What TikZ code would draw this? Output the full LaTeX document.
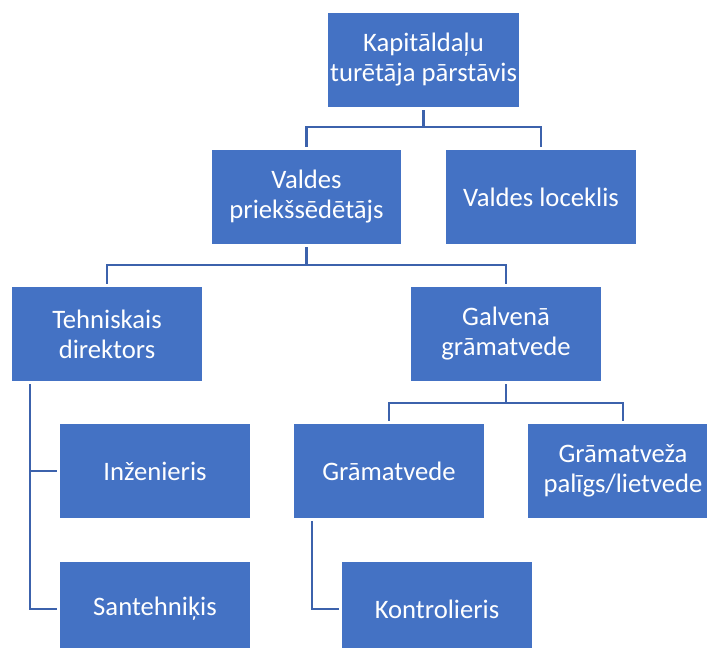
\documentclass[tikz,border=0pt]{standalone}
\usepackage{fontspec}
\setmainfont{Carlito}
\usepackage{tikz}

\definecolor{boxblue}{RGB}{68,114,196}
\definecolor{linkblue}{RGB}{60,98,172}

\begin{document}
\begin{tikzpicture}[x=0.75pt,y=0.75pt,yscale=-1,
  orgbox/.style={draw=white,line width=1.2pt,fill=boxblue,text=white,
    minimum width=143.25pt,minimum height=71.25pt,inner sep=2pt,
    align=center,font=\fontsize{20}{22.5}\selectfont},
  link/.style={draw=linkblue,line width=1.9pt,shorten <=1.5pt,shorten >=1.5pt}]
%set diagram size 707 x 648
\useasboundingbox (0,0) rectangle (707,648);

% Boxes
\node [orgbox] (kap) at (423.5,60) {Kapitāldaļu\\turētāja pārstāvis};
\node [orgbox] (vpr) at (306.5,197) {Valdes\\priekšsēdētājs};
\node [orgbox] (vlo) at (541,197) {Valdes loceklis};
\node [orgbox] (teh) at (107,334) {Tehniskais\\direktors};
\node [orgbox] (gal) at (506,334) {Galvenā\\grāmatvede};
\node [orgbox] (inz) at (155,471) {Inženieris};
\node [orgbox] (gra) at (389,471) {Grāmatvede};
\node [orgbox] (pal) at (623,471) {Grāmatveža\\palīgs/lietvede};
\node [orgbox] (san) at (155,609) {Santehniķis};
\node [orgbox] (kon) at (437,609) {Kontrolieris};

% Connectors
\draw [link] (kap.south) |- (306.5,127) -- (vpr.north);
\draw [link] (kap.south) |- (541,127) -- (vlo.north);
\draw [link] (vpr.south) |- (107,265) -- (teh.north);
\draw [link] (vpr.south) |- (506,265) -- (gal.north);
\draw [link] (gal.south) |- (389,403) -- (gra.north);
\draw [link] (gal.south) |- (623,403) -- (pal.north);
\draw [link] (teh.south -| 30,0) |- (inz.west);
\draw [link] (teh.south -| 30,0) |- (san.west);
\draw [link] (gra.south -| 312,0) |- (kon.west);

\end{tikzpicture}
\end{document}
